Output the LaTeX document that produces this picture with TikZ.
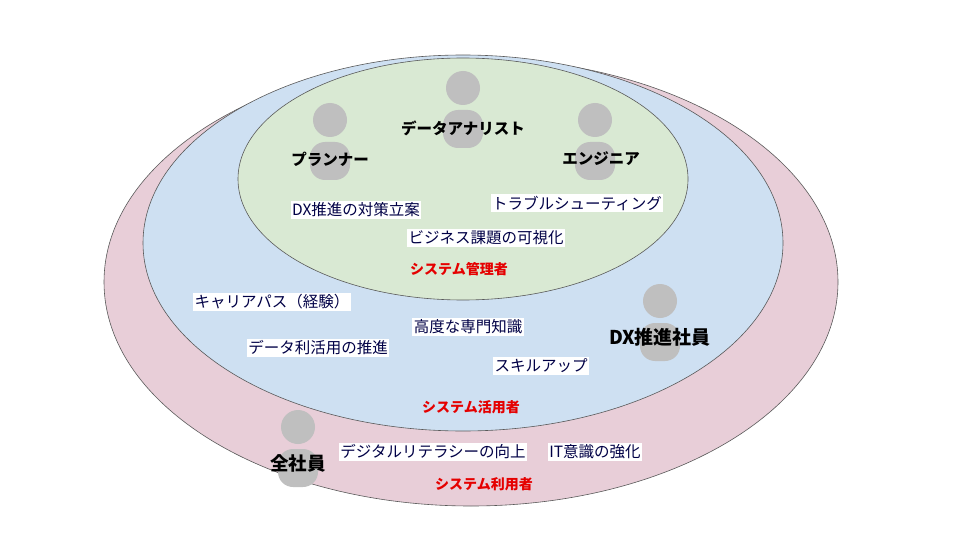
\documentclass[tikz,border=0pt]{standalone}
\usepackage{fontspec}
\setmainfont{Noto Sans CJK JP}
\begin{document}
\begin{tikzpicture}[x=1pt,y=-1pt,
  ring/.style={draw=black!65,line width=0.6pt},
  lab/.style={fill=white,inner sep=1.5pt,text=black!45!blue!50!black,font=\fontsize{15.5}{15.5}\selectfont},
  role/.style={font=\fontsize{15.5}{15.5}\selectfont\bfseries},
  sys/.style={text=red!90!black,font=\fontsize{14}{14}\selectfont\bfseries},
  icon/.style={fill=black!25}]
\useasboundingbox (0,0) rectangle (960,540);
\definecolor{pk}{HTML}{E8CED8}
\definecolor{bl}{HTML}{CEE0F2}
\definecolor{gr}{HTML}{D9E9D3}
\draw[ring,fill=pk] (471,282) ellipse [x radius=367,y radius=224];
\draw[ring,fill=bl] (463,243) ellipse [x radius=320,y radius=188];
\draw[ring,fill=gr] (463,179) ellipse [x radius=225,y radius=121];
\newcommand{\person}[2]{%
  \fill[icon] (#1,#2) circle [radius=17];
  \fill[icon,rounded corners=15pt] (#1-20,#2+60) -- (#1-20,#2+22) -- (#1+20,#2+22) -- (#1+20,#2+60) -- cycle;}
\person{463}{88}
\person{330}{120}
\person{595}{120}
\person{660}{301}
\person{298}{427}
\node[role] (ana) at (463,128) {データアナリスト};
\node[role] (pla) at (330,159) {プランナー};
\node[role] (eng) at (601,159) {エンジニア};
\node[lab] (l1) at (356,210) {DX推進の対策立案};
\node[lab] (l2) at (577,203) {トラブルシューティング};
\node[lab] (l3) at (486,238) {ビジネス課題の可視化};
\node[sys] (s1) at (459,269) {システム管理者};
\node[lab] (l4) at (272,302) {キャリアパス（経験）};
\node[lab] (l5) at (468,327) {高度な専門知識};
\node[lab] (l6) at (318,348) {データ利活用の推進};
\node[lab] (l7) at (541,366) {スキルアップ};
\node[font=\fontsize{19}{19}\selectfont\bfseries] (dx) at (660,337) {DX推進社員};
\node[font=\fontsize{18.5}{18.5}\selectfont\bfseries] (all) at (298,463) {全社員};
\node[sys] (s2) at (471,407) {システム活用者};
\node[lab] (l8) at (433,452) {デジタルリテラシーの向上};
\node[lab] (l9) at (595,452) {IT意識の強化};
\node[sys] (s3) at (484,484) {システム利用者};
\end{tikzpicture}
\end{document}
